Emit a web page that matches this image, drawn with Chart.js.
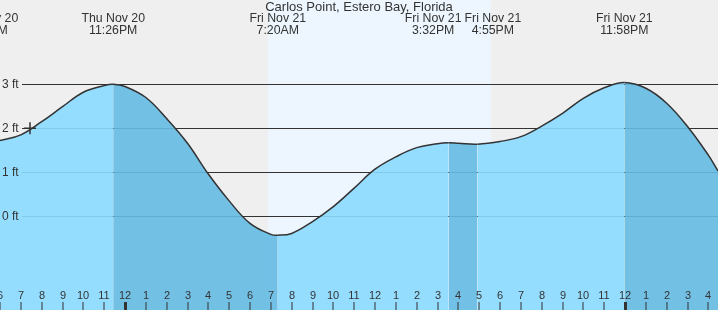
<!DOCTYPE html>
<html><head><meta charset="utf-8">
<script src="https://cdn.jsdelivr.net/npm/chart.js"></script>
<style>html,body{margin:0;padding:0;background:#efefef}canvas{display:block}</style>
</head><body>
<canvas id="c" width="718" height="310"></canvas>
<script>
// hours after 6PM Thu Nov 20
const hours   = [0,1,2,3,4,5,5.433,6,7,8,9,10,11,12,13,13.333,14,15,16,17,18,19,20,21,21.533,22,22.917,24,25,26,27,28,29,29.967,31,32,33,34,34.464];
const heights = [1.72,1.85,2.15,2.49,2.82,2.97,3.0,2.95,2.70,2.22,1.66,0.96,0.35,-0.16,-0.41,-0.43,-0.39,-0.12,0.22,0.64,1.07,1.35,1.56,1.65,1.67,1.66,1.64,1.70,1.81,2.05,2.34,2.68,2.92,3.04,2.91,2.57,2.04,1.39,1.03];
const eventHours = [-0.65,5.433,13.333,21.533,22.917,29.967];
const eventDays  = ['Thu Nov 20','Thu Nov 20','Fri Nov 21','Fri Nov 21','Fri Nov 21','Fri Nov 21'];
const eventTimes = ['5:21PM','11:26PM','7:20AM','3:32PM','4:55PM','11:58PM'];
const ebbRanges  = [[5.433,13.333],[21.533,22.917],[29.967,99]];
const dayRange   = [12.867,23.567];
const gridFt     = [3,2,1,0];
const gridLabels = ['3 ft','2 ft','1 ft','0 ft'];
const tickHours  = [0,1,2,3,4,5,6,7,8,9,10,11,12,13,14,15,16,17,18,19,20,21,22,23,24,25,26,27,28,29,30,31,32,33,34];
const tickLabels = ['6','7','8','9','10','11','12','1','2','3','4','5','6','7','8','9','10','11','12','1','2','3','4','5','6','7','8','9','10','11','12','1','2','3','4'];
const midnightHours = [6,30];
const nowMarker  = [{x:1.44,y:2.0}];
const title = 'Carlos Point, Estero Bay, Florida';

const LIGHT = 'rgba(139,218,255,0.9)';
const DARK  = 'rgba(101,186,227,0.9)';
const FAM   = '"Liberation Sans", Arial, sans-serif';
const TXT   = '#333';

const deco = {
  id:'deco',
  beforeDatasetsDraw(chart){
    const {ctx, chartArea:a, scales:{x,y}} = chart;
    ctx.save();
    ctx.fillStyle='#efefef'; ctx.fillRect(a.left,a.top,a.width,a.height);
    const d0=x.getPixelForValue(dayRange[0]), d1=x.getPixelForValue(dayRange[1]);
    ctx.fillStyle='#edf6fe'; ctx.fillRect(d0,a.top,d1-d0,a.height);
    ctx.strokeStyle='#333'; ctx.lineWidth=1;
    gridFt.forEach(v=>{
      const py=Math.round(y.getPixelForValue(v))+0.5;
      ctx.beginPath(); ctx.moveTo(22,py); ctx.lineTo(a.right,py); ctx.stroke();
    });
    ctx.restore();
  },
  afterDatasetsDraw(chart){
    const {ctx, chartArea:a, scales:{x,y}} = chart;
    ctx.save();
    ctx.fillStyle=TXT; ctx.textBaseline='middle';
    ctx.font='12px '+FAM; ctx.textAlign='left';
    gridFt.forEach((v,i)=>ctx.fillText(gridLabels[i],2,y.getPixelForValue(v)));
    ctx.textAlign='center';
    ctx.font='13px '+FAM;
    ctx.fillText(title,(a.left+a.right)/2,7);
    ctx.font='12.3px '+FAM;
    // event label positions, pushed apart when they would overlap
    const lab = eventHours.map((h,i)=>({c:x.getPixelForValue(h),
      w:Math.max(ctx.measureText(eventDays[i]).width,ctx.measureText(eventTimes[i]).width)}));
    for (let k=0;k<5;k++){
      for (let i=1;i<lab.length;i++){
        const L=lab[i-1],R=lab[i];
        const need=(L.w+R.w)/2+3-(R.c-L.c);
        if (need>0){L.c-=need/2;R.c+=need/2;}
      }
    }
    lab.forEach((l,i)=>{
      ctx.fillText(eventDays[i],l.c,19);
      ctx.fillText(eventTimes[i],l.c,31);
    });
    ctx.font='11px '+FAM;
    tickHours.forEach((h,i)=>{
      const px=Math.round(x.getPixelForValue(h));
      ctx.fillText(tickLabels[i],px,296);
      const thick=midnightHours.includes(h);
      ctx.fillRect(px-(thick?1:0.5),302,thick?3:1,8);
    });
    ctx.restore();
  }
};

new Chart(document.getElementById('c'),{
  type:'line',
  data:{datasets:[
    {data:nowMarker,type:'scatter',pointStyle:'cross',pointRadius:6,borderColor:'#333',borderWidth:1.5,showLine:false,order:0},
    {data:hours.map((h,i)=>({x:h,y:heights[i]})),borderColor:'#333',borderWidth:1.5,pointRadius:0,
     fill:'start',backgroundColor:LIGHT,tension:0.4,order:1,
     segment:{backgroundColor:c=>{const p=c.p0.parsed.x,q=c.p1.parsed.x;return ebbRanges.some(([s,e])=>p>=s-1e-6&&q<=e+1e-6)?DARK:LIGHT;}}}
  ]},
  options:{
    responsive:false,animation:false,
    layout:{padding:0,autoPadding:false},
    plugins:{legend:{display:false},tooltip:{enabled:false}},
    scales:{
      x:{type:'linear',min:0,max:34.464,display:false},
      y:{min:-2.13,max:4.916,display:false}
    }
  },
  plugins:[deco]
});
</script>
</body></html>
